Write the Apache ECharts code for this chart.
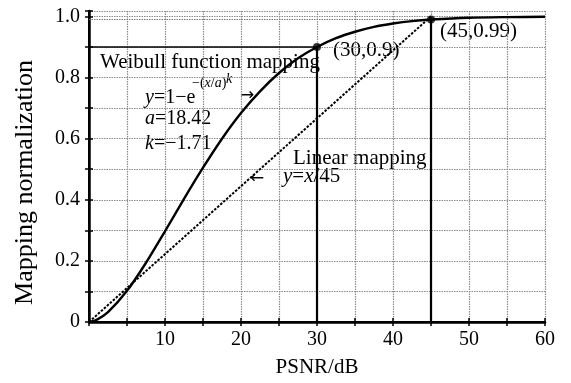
<!DOCTYPE html>
<html><head><meta charset="utf-8">
<script src="https://cdn.jsdelivr.net/npm/echarts@6/dist/echarts.min.js"></script>
<style>html,body{margin:0;padding:0;background:#fff}#c{width:571px;height:383px}</style>
</head><body><div id="c"></div>
<script>
// Weibull mapping curve
const psnr    = [0, 1, 2.5, 5, 7.5, 10, 12.5, 15, 17.5, 20, 22.5, 25, 27.5, 30, 32.5, 35, 37.5, 40, 42.5, 45, 50, 55, 60];
const weibull = [0, 0.007, 0.032, 0.102, 0.194, 0.297, 0.403, 0.505, 0.600, 0.684, 0.755, 0.815, 0.863, 0.900, 0.929, 0.950, 0.966, 0.977, 0.985, 0.990, 0.996, 0.998, 0.999];
// Linear mapping y = x/45
const linearX = [0, 45];
const linearY = [0, 1];
// Key points
const keyX = [30, 45];
const keyY = [0.9, 0.99];
// Tick labels
const xTickLabels = [10, 20, 30, 40, 50, 60];
const yTickLabels = [0, 0.2, 0.4, 0.6, 0.8, 1.0];

const SERIF = '"Liberation Serif","Times New Roman",serif';
const zip = (a, b) => a.map((v, i) => [v, b[i]]);
const has = (arr, v) => arr.some(t => Math.abs(t - v) < 1e-6);

const gridLine = {show: true, lineStyle: {color: '#8a8a8a', width: 1.2, type: [1.5, 1]}};
const chart = echarts.init(document.getElementById('c'), null, {renderer: 'canvas'});
chart.setOption({
  animation: false,
  backgroundColor: '#fff',
  grid: {left: 89, right: 26, top: 11, bottom: 58, containLabel: false},
  xAxis: [{
    type: 'value', min: 0, max: 60, interval: 5,
    name: 'PSNR/dB', nameLocation: 'middle', nameGap: 35,
    nameTextStyle: {fontFamily: SERIF, fontSize: 21, color: '#000'},
    axisLine: {show: true, lineStyle: {color: '#000', width: 2.5}},
    axisTick: {show: true, inside: true, length: 4, lineStyle: {color: '#000', width: 1.5}},
    axisLabel: {margin: 8, fontFamily: SERIF, fontSize: 20, color: '#000',
      formatter: v => has(xTickLabels, v) ? String(v) : ''},
    splitLine: gridLine
  }, {
    type: 'value', position: 'top', min: 0, max: 60, interval: 5,
    axisLine: {show: true, lineStyle: {color: '#000', width: 2}},
    axisTick: {show: true, inside: true, length: 4, lineStyle: {color: '#000', width: 1.5}},
    axisLabel: {show: false}, splitLine: {show: false}
  }],
  yAxis: [{
    type: 'value', min: 0, max: 1.018, interval: 0.1,
    name: 'Mapping normalization', nameLocation: 'middle', nameGap: 51,
    nameTextStyle: {fontFamily: SERIF, fontSize: 26, color: '#000', padding: [0, 32, 0, 0]},
    axisLine: {show: true, lineStyle: {color: '#000', width: 2.5}},
    axisTick: {show: true, inside: true, length: 4, lineStyle: {color: '#000', width: 1.5}},
    axisLabel: {margin: 9, fontFamily: SERIF, fontSize: 20, color: '#000', padding: [5, 0, 0, 0],
      formatter: v => has(yTickLabels, v) ? (v === 0 ? '0' : v.toFixed(1)) : ''},
    splitLine: gridLine
  }, {
    type: 'value', position: 'right', min: 0, max: 1.018, interval: 0.1,
    axisLine: {show: true, lineStyle: {color: '#000', width: 2}},
    axisTick: {show: true, inside: true, length: 4, lineStyle: {color: '#000', width: 1.5}},
    axisLabel: {show: false}, splitLine: {show: false}
  }],
  series: [{
    type: 'line', name: 'Weibull', data: zip(psnr, weibull),
    smooth: 0.25, showSymbol: false, symbol: 'none',
    lineStyle: {color: '#000', width: 2.4},
    z: 5,
    markLine: {
      silent: true, symbol: 'none', label: {show: false}, animation: false,
      data: [
        [{coord: [0, keyY[0]], lineStyle: {color: '#000', width: 1.6, type: 'solid'}}, {coord: [keyX[0], keyY[0]]}],
        [{coord: [keyX[0], 0], lineStyle: {color: '#000', width: 2.2, type: 'solid'}}, {coord: [keyX[0], keyY[0]]}],
        [{coord: [keyX[1], 0], lineStyle: {color: '#000', width: 2.2, type: 'solid'}}, {coord: [keyX[1], keyY[1]]}],
        [{coord: [0, keyY[1]], lineStyle: {color: '#777', width: 1.2, type: [1.5, 1]}}, {coord: [keyX[1], keyY[1]]}]
      ]
    }
  }, {
    type: 'line', name: 'Linear', data: zip(linearX, linearY),
    showSymbol: false, symbol: 'none',
    lineStyle: {color: '#000', width: 2, type: [2.5, 1.5]}, z: 4
  }, {
    type: 'scatter', name: 'Points', data: zip(keyX, keyY),
    symbol: 'circle', symbolSize: 8, itemStyle: {color: '#000'}, z: 6
  }],
  graphic: [
    {type: 'text', x: 100, y: 62, style: {text: 'Weibull function mapping', font: '21px ' + SERIF, fill: '#000', verticalAlign: 'middle'}},
    {type: 'text', x: 333, y: 50, style: {text: '(30,0.9)', font: '21px ' + SERIF, fill: '#000', verticalAlign: 'middle'}},
    {type: 'text', x: 440, y: 31, style: {text: '(45,0.99)', font: '21px ' + SERIF, fill: '#000', verticalAlign: 'middle'}},
    {type: 'text', x: 145, y: 98, style: {text: '{i|y}=1−e', font: '20px ' + SERIF, fill: '#000', verticalAlign: 'middle',
      rich: {i: {fontFamily: SERIF, fontSize: 20, fontStyle: 'italic'}}}},
    {type: 'text', x: 192, y: 83, style: {text: '−({i|x}/{i|a})', font: '14px ' + SERIF, fill: '#000', verticalAlign: 'middle',
      rich: {i: {fontFamily: SERIF, fontSize: 14, fontStyle: 'italic'}}}},
    {type: 'text', x: 226, y: 79, style: {text: 'k', font: 'italic 14px ' + SERIF, fill: '#000', verticalAlign: 'middle'}},
    {type: 'text', x: 240, y: 96, style: {text: '→', font: '17px "DejaVu Sans"', fill: '#000', verticalAlign: 'middle'}},
    {type: 'text', x: 145, y: 119, style: {text: '{i|a}=18.42', font: '20px ' + SERIF, fill: '#000', verticalAlign: 'middle',
      rich: {i: {fontFamily: SERIF, fontSize: 20, fontStyle: 'italic'}}}},
    {type: 'text', x: 145, y: 144, style: {text: '{i|k}=−1.71', font: '20px ' + SERIF, fill: '#000', verticalAlign: 'middle',
      rich: {i: {fontFamily: SERIF, fontSize: 20, fontStyle: 'italic'}}}},
    {type: 'text', x: 293, y: 158, style: {text: 'Linear mapping', font: '21px ' + SERIF, fill: '#000', verticalAlign: 'middle'}},
    {type: 'text', x: 250, y: 179, style: {text: '←', font: '17px "DejaVu Sans"', fill: '#000', verticalAlign: 'middle'}},
    {type: 'text', x: 283, y: 176, style: {text: '{i|y}={i|x}/45', font: '21px ' + SERIF, fill: '#000', verticalAlign: 'middle',
      rich: {i: {fontFamily: SERIF, fontSize: 21, fontStyle: 'italic'}}}}
  ]
});
</script></body></html>
